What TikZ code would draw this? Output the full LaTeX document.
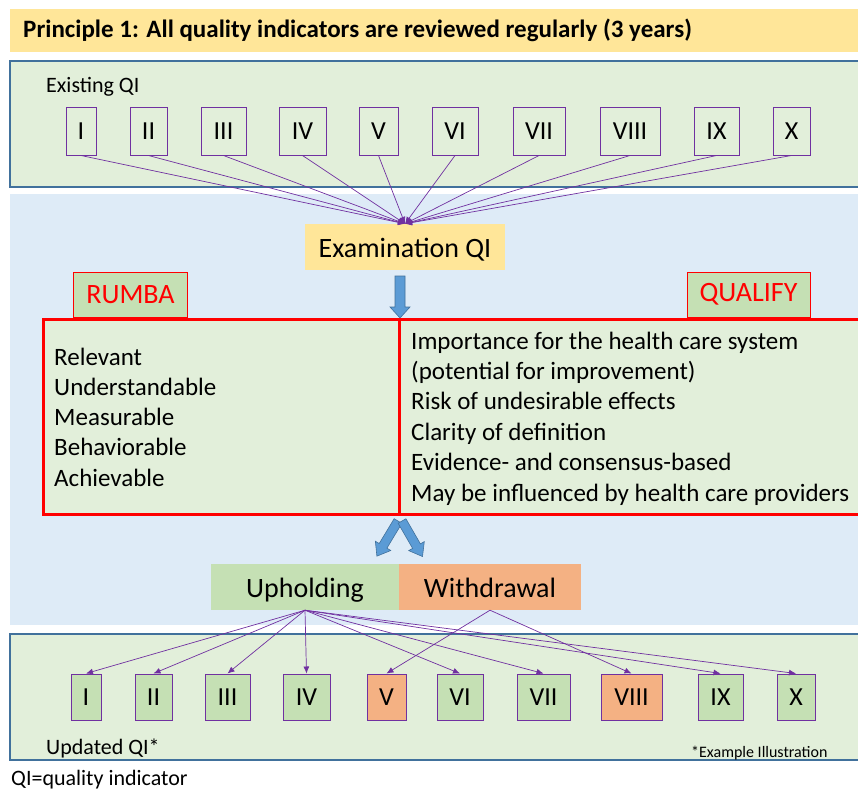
\documentclass[tikz,border=0pt]{standalone}
\usepackage{fontspec}
\setmainfont{Carlito}
\usepackage{tikz}
\usetikzlibrary{positioning, arrows.meta}
\definecolor{titleyellow}{HTML}{FFE699}
\definecolor{palegreen}{HTML}{E2EFDA}
\definecolor{midgreen}{HTML}{C5E0B4}
\definecolor{paleblue}{HTML}{DEEBF7}
\definecolor{peach}{HTML}{F4B183}
\definecolor{qipurple}{HTML}{7030A0}
\definecolor{frameblue}{HTML}{41719C}
\definecolor{arrowblue}{HTML}{5B9BD5}

\begin{document}
\begin{tikzpicture}[x=1pt, y=-1pt,
		qibox/.style={draw=qipurple, line width=1pt, inner sep=0pt, font=\fontsize{26}{30}\selectfont},
		link/.style={qipurple, line width=0.7pt, -{Latex[length=7pt,width=6pt]}},
		bigtext/.style={inner sep=0pt, text height=20pt, text depth=0pt, minimum height=46pt, font=\fontsize{28}{32}\selectfont},
		tag/.style={draw=red, fill=midgreen, text=red, line width=0.6pt, inner sep=0pt, minimum height=45pt, font=\fontsize{28}{32}\selectfont},
		listtext/.style={anchor=base west, inner sep=0pt, font=\fontsize{25}{30}\selectfont},
		blockarrow/.style={fill=arrowblue, draw=frameblue, line width=0.6pt}]
		\useasboundingbox (0,0) rectangle (858,789);
		% bands
		\fill[titleyellow] (10,9) rectangle (870,52);
		\draw[frameblue, fill=palegreen, line width=1.5pt] (10,61) rectangle (870,187);
		\fill[paleblue] (10,194) rectangle (870,625);
		\draw[frameblue, fill=palegreen, line width=1.5pt] (10,634) rectangle (870,760);
		\node[anchor=base west, inner sep=0pt, font=\fontsize{25}{29}\selectfont\bfseries] (title) at (23,38) {Principle 1: All quality indicators are reviewed regularly (3 years)};
		% existing QI
		\node[anchor=base west, inner sep=0pt, font=\fontsize{22}{26}\selectfont] (existing) at (46,93) {Existing QI};
		\foreach \n/\x/\w in {I/81/30, II/148.5/37, III/223.5/45, IV/302.5/47, V/378.5/39, VI/455/46, VII/539/52, VIII/630/60, IX/716.5/45, X/791.5/37}
		\node[qibox, minimum width=\w, minimum height=47] (t\n) at (\x,131.5) {\n};
		\node[bigtext, fill=titleyellow, minimum width=200pt] (exam) at (405,247) {Examination QI};
		\foreach \n in {I,II,III,IV,V,VI,VII,VIII,IX,X}
		\draw[link] (t\n.south) -- (exam.north);
		\draw[blockarrow] (395,276) -- ++(10,0) -- ++(0,31) -- ++(5,0) -- ++(-10,11) -- ++(-10,-11) -- ++(5,0) -- cycle;
		% criteria
		\node[tag, minimum width=114pt] (rumba) at (130.5,294.5) {RUMBA};
		\node[tag, minimum width=123pt] (qualify) at (748.5,294.5) {QUALIFY};
		\fill[palegreen] (43,319) rectangle (875,514);
		\draw[red, line width=3pt] (43,319) rectangle (399.5,514);
		\draw[red, line width=3pt] (399.5,319) rectangle (875,514);
		\foreach \t [count=\i] in {Relevant, Understandable, Measurable, Behaviorable, Achievable}
		\node[listtext] (rumba\i) at (54,{365+30.25*(\i-1)}) {\t};
		\foreach \t [count=\i] in {Importance for the health care system, (potential for improvement), Risk of undesirable effects, Clarity of definition, Evidence- and consensus-based, May be influenced by health care providers}
		\node[listtext] (qualify\i) at (411,{349+30.4*(\i-1)}) {\t};
		\begin{scope}[shift={(398,521)}, rotate=-31]
			\draw[blockarrow] (-4.5,0) -- ++(9,0) -- ++(0,29) -- ++(4.5,0) -- ++(-9,12) -- ++(-9,-12) -- ++(4.5,0) -- cycle;
		\end{scope}
		\begin{scope}[shift={(402,521)}, rotate=30]
			\draw[blockarrow] (-4.5,0) -- ++(9,0) -- ++(0,29) -- ++(4.5,0) -- ++(-9,12) -- ++(-9,-12) -- ++(4.5,0) -- cycle;
		\end{scope}
		% decision
		\node[bigtext, fill=midgreen, minimum width=188pt] (uphold) at (305,587) {Upholding};
		\node[bigtext, fill=peach, minimum width=182pt] (withdraw) at (490,587) {Withdrawal};
		% updated QI
		\foreach \n/\x/\w/\c in {I/86/30/midgreen, II/153.5/37/midgreen, III/227.5/45/midgreen, IV/306.5/47/midgreen, V/386.5/39/peach, VI/460/46/midgreen, VII/543.5/53/midgreen, VIII/631.5/61/peach, IX/720.5/45/midgreen, X/796/38/midgreen}
		\node[qibox, fill=\c, minimum width=\w, minimum height=46] (b\n) at (\x,697) {\n};
		\foreach \n in {I,II,III,IV,VI,VII,IX,X}
		\draw[link] (uphold.south) -- (b\n.north);
		\foreach \n in {V,VIII}
		\draw[link] (withdraw.south) -- (b\n.north);
		\node[anchor=base west, inner sep=0pt, font=\fontsize{22}{26}\selectfont] (updated) at (46,754) {Updated QI*};
		\node[anchor=base west, inner sep=0pt, font=\fontsize{16}{19}\selectfont] (example) at (691,757) {*Example Illustration};
		\node[anchor=base west, inner sep=0pt, font=\fontsize{22}{26}\selectfont] (legend) at (11,785) {QI=quality indicator};
\end{tikzpicture}
\end{document}
